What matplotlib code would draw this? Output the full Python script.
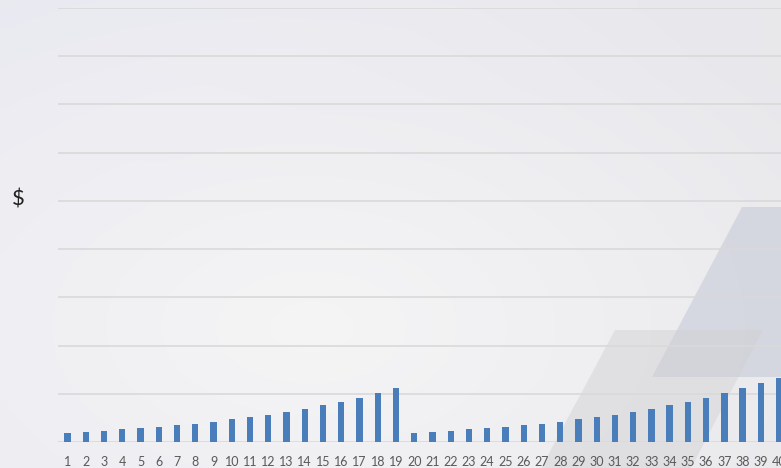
import numpy as np
import matplotlib
matplotlib.use("Agg")
import matplotlib.pyplot as plt
from matplotlib.patches import Polygon

# periods 1-19 and 20-40 (two growth runs)
periods = list(range(1, 41))
run1 = [95, 105, 115, 130, 145, 160, 175, 190, 210, 235, 260, 285, 310, 345,
        380, 415, 455, 505, 555]
run2 = [95, 105, 115, 130, 145, 160, 175, 190, 210, 235, 260, 285, 310, 345,
        380, 415, 455, 505, 555, 610, 665]
values = run1 + run2
tick_labels = [str(p) for p in periods]

plt.rcParams['font.family'] = ['Lato', 'DejaVu Sans']

W, H = 781, 468
fig = plt.figure(figsize=(W / 100, H / 100), dpi=100)

# background gradient
bg = fig.add_axes([0, 0, 1, 1], zorder=-10)
yy, xx = np.mgrid[0:1:200j, 0:1:300j]
d = np.sqrt(((xx - 0.4) / 1.0) ** 2 + ((yy - 0.7) / 1.0) ** 2)
light = np.array([0.96, 0.96, 0.962])
dark_tl = np.array([0.915, 0.915, 0.945])
dark_tr = np.array([0.91, 0.91, 0.925])
w_tl = np.clip((1 - xx) * 1.2, 0, 1)[..., None]
dark = dark_tl * w_tl + dark_tr * (1 - w_tl)
t = np.clip(d / 0.8, 0, 1)[..., None]
img = light * (1 - t) + dark * t
bg.imshow(img, extent=[0, W, H, 0], aspect='auto')
bg.set_xlim(0, W)
bg.set_ylim(H, 0)
bg.axis('off')

# decorative slanted shapes (pixel coordinates, y down)
bg.add_patch(Polygon([(742, 207), (790, 207), (790, 377), (652, 377)],
                     closed=True, facecolor='#c4c8d6', alpha=0.55, edgecolor='none'))
bg.add_patch(Polygon([(615, 330), (763, 330), (690, 470), (540, 470)],
                     closed=True, facecolor='#d0d0d2', alpha=0.45, edgecolor='none'))

# chart
left = 58.4 / W
bottom = 26 / H
ax = fig.add_axes([left, bottom, 1 - left, (442 - 8) / H])
ax.patch.set_alpha(0)
ax.bar(periods, values, width=0.35, color='#4a7ebb', zorder=3)
ax.set_xlim(0.5, 40.1)
ax.set_ylim(0, 4500)
ax.set_yticks(np.arange(0, 4501, 500))
ax.set_yticklabels([])
ax.set_xticks(periods)
ax.set_xticklabels(tick_labels, fontsize=9, color='#595959')
ax.tick_params(axis='both', length=0)
ax.tick_params(axis='x', pad=10)
ax.grid(axis='y', color='#d9d9d9', linewidth=1.2, zorder=0)
for s in ax.spines.values():
    s.set_visible(False)

fig.text(18 / W, 1 - 200 / H, '$', fontsize=16, color='#222222',
         ha='center', va='center')

plt.savefig("out.png", dpi=100)
plt.close()
